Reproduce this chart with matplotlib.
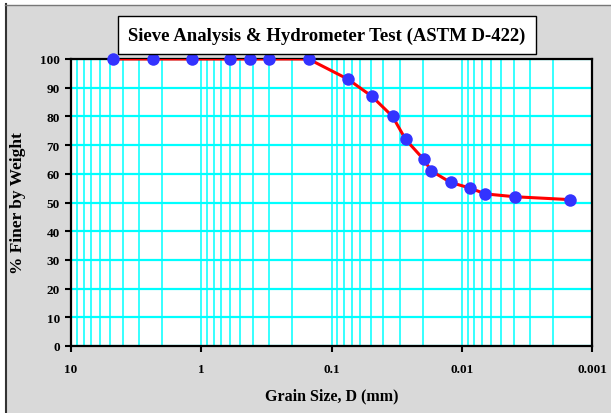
import numpy as np
import matplotlib.pyplot as plt
from matplotlib.patches import Rectangle
from matplotlib.ticker import LogLocator, NullFormatter, FixedLocator, FixedFormatter

# grain sizes (mm) and percent passing
grain_size = [4.75, 2.36, 1.18, 0.6, 0.425, 0.3, 0.15, 0.075,
              0.049, 0.034, 0.027, 0.0196, 0.0171, 0.0122, 0.0086, 0.0066,
              0.0039, 0.00147]
finer = [100, 100, 100, 100, 100, 100, 100, 93,
         87, 80, 72, 65, 61, 57, 55, 53, 52, 51]

x_ticks = [10, 1, 0.1, 0.01, 0.001]
x_labels = ['10', '1', '0.1', '0.01', '0.001']
y_ticks = list(range(0, 101, 10))

plt.rcParams['font.family'] = 'Liberation Serif'
plt.rcParams['font.weight'] = 'bold'
plt.rcParams['axes.labelweight'] = 'bold'

W, H = 611, 414
fig = plt.figure(figsize=(W / 100, H / 100), dpi=100)
fig.patch.set_facecolor('white')

# grey chart area with dark frame on top and left
bg = Rectangle((6 / W, 0), 1 - 6 / W, 1 - 6 / H, transform=fig.transFigure,
               facecolor='#d9d9d9', edgecolor='none', zorder=-5)
fig.patches.append(bg)
fig.add_artist(plt.Line2D([6 / W, 6 / W], [0, 1 - 5 / H], color='#333333',
                          lw=1.5, transform=fig.transFigure, zorder=-4))
fig.add_artist(plt.Line2D([5 / W, 1], [1 - 6 / H, 1 - 6 / H], color='#777777',
                          lw=1.0, transform=fig.transFigure, zorder=-4))

left, right, top, bottom = 71, 592, 60, 347
ax = fig.add_axes([left / W, 1 - bottom / H, (right - left) / W, (bottom - top) / H])
ax.set_zorder(2)
ax.set_facecolor('white')

ax.set_xscale('log')
ax.set_xlim(10, 0.001)
ax.set_ylim(0, 100)

ax.xaxis.set_major_locator(FixedLocator(x_ticks))
ax.xaxis.set_major_formatter(FixedFormatter(x_labels))
ax.xaxis.set_minor_locator(LogLocator(base=10, subs=np.arange(2, 10)))
ax.xaxis.set_minor_formatter(NullFormatter())
ax.set_yticks(y_ticks)

ax.grid(True, which='major', axis='y', color='#00ffff', lw=1.6)
ax.grid(True, which='both', axis='x', color='#00ffff', lw=1.1)
ax.set_axisbelow(True)

ax.plot(grain_size, finer, color='#ff0000', lw=2.2, zorder=3)
ax.plot(grain_size, finer, 'o', color='#3333ff', markersize=9,
        markeredgewidth=0, zorder=4, clip_on=False)

for s in ax.spines.values():
    s.set_color('black')
    s.set_linewidth(1.6)

ax.tick_params(axis='both', which='major', direction='out', length=4, width=1.5,
               color='black', pad=4, labelsize=9.5)
ax.tick_params(axis='x', which='minor', length=0)
ax.tick_params(axis='x', pad=8)

ax.set_xlabel('Grain Size, D (mm)', fontsize=11.5, fontweight='bold', labelpad=9)
ax.set_ylabel('% Finer by Weight', fontsize=12.5, fontweight='bold', labelpad=10)

# title in a framed box
fig.text(327 / W, 1 - 36 / H, 'Sieve Analysis & Hydrometer Test (ASTM D-422)',
         ha='center', va='center', fontsize=13.5, fontweight='bold',
         bbox=dict(boxstyle='square,pad=0.55', facecolor='white',
                   edgecolor='black', lw=1.0))

fig.savefig('out.png', dpi=100)
